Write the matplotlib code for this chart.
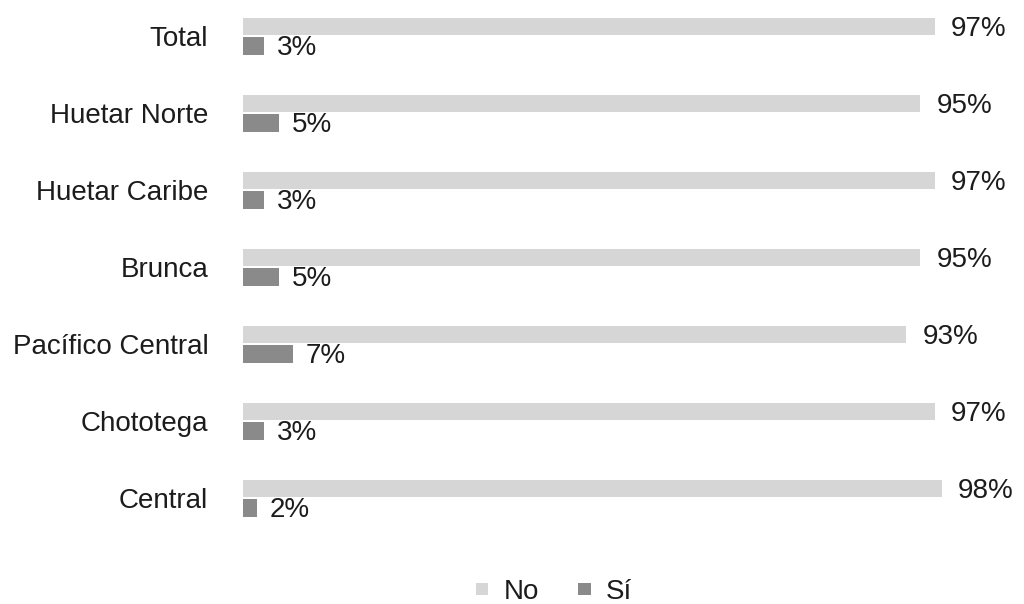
import matplotlib.pyplot as plt
import numpy as np

plt.rcParams['font.family'] = ['Liberation Sans', 'DejaVu Sans']

regiones = ['Total', 'Huetar Norte', 'Huetar Caribe', 'Brunca',
            'Pacífico Central', 'Chototega', 'Central']
no = [97, 95, 97, 95, 93, 97, 98]
si = [3, 5, 3, 5, 7, 3, 2]

color_no = '#d6d6d6'
color_si = '#8a8a8a'
color_txt = '#1c1c1c'

fig = plt.figure(figsize=(10.24, 6.04), dpi=100)
ax = fig.add_axes([243 / 1024, 64 / 604, 713 / 1024, 540 / 604])

y = np.arange(len(regiones))
h = 0.23
ax.barh(y - 0.125, no, height=h, color=color_no, label='No')
ax.barh(y + 0.125, si, height=h, color=color_si, label='Sí')

for i in range(len(regiones)):
    ax.text(no[i] + 2.3, y[i] - 0.09, f'{no[i]}%', va='center', ha='left',
            fontsize=20, color=color_txt)
    ax.text(si[i] + 1.8, y[i] + 0.15, f'{si[i]}%', va='center', ha='left',
            fontsize=20, color=color_txt)

ax.set_xlim(0, 100)
ax.set_ylim(6.545, -0.468)
ax.set_yticks(y)
ax.set_yticklabels(regiones, fontsize=20, color=color_txt)
ax.tick_params(axis='y', length=0, pad=25)
ax.set_xticks([])
for s in ax.spines.values():
    s.set_visible(False)

handles, labels = ax.get_legend_handles_labels()
fig.legend(handles, labels, loc='center', bbox_to_anchor=(554 / 1024, 1 - 592 / 604),
           ncol=2, frameon=False, fontsize=20, handlelength=0.45, handleheight=0.3,
           handletextpad=0.55, columnspacing=1.4, labelcolor=color_txt,
           borderpad=0)

fig.savefig('out.png', dpi=100)
